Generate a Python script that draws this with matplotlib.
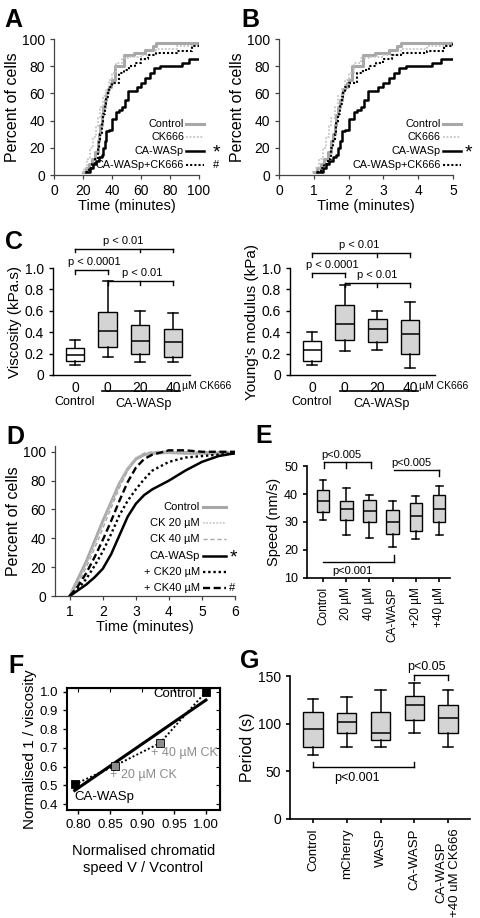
import numpy as np
import matplotlib.pyplot as plt
from matplotlib.lines import Line2D

plt.rcParams['font.family'] = ['Liberation Sans', 'DejaVu Sans']

# ---------------- data ----------------
# A / B : cumulative percent of cells (step curves)
pct_ctrl = [2, 5, 8, 12, 17, 25, 30, 37, 44, 50, 55, 60, 63, 65, 68, 70, 80, 88, 90, 92, 95, 97, 97]
pct_ck = [2, 5, 12, 20, 28, 36, 42, 50, 58, 63, 70, 75, 82, 86, 87, 88, 93, 95, 97]
pct_wasp = [2, 5, 8, 10, 13, 15, 20, 25, 32, 33, 41, 46, 48, 50, 55, 62, 62, 65, 68, 71, 75, 79, 80, 80, 82, 85, 85]
pct_wasp_ck = [2, 5, 8, 12, 20, 25, 30, 38, 45, 52, 57, 62, 65, 68, 68, 75, 77, 80, 82, 85, 88, 90, 90, 91, 95, 97]

tA_ctrl = [20, 22, 24, 26, 28, 30, 31, 32, 33, 34, 35, 36, 37, 38, 39, 40, 42, 48, 55, 63, 68, 70, 100]
tA_ck = [19, 21, 23, 25, 27, 29, 30, 32, 34, 36, 38, 40, 43, 47, 52, 60, 70, 85, 100]
tA_wasp = [22, 25, 27, 29, 31, 33, 34, 35, 36, 38, 40, 43, 45, 47, 49, 51, 55, 57, 60, 63, 66, 69, 73, 80, 88, 93, 100]
tA_wasp_ck = [22, 24, 26, 28, 30, 31, 32, 33, 34, 35, 36, 37, 38, 40, 42, 45, 48, 52, 56, 60, 65, 70, 75, 85, 95, 100]

tB_ctrl = [1.0, 1.1, 1.2, 1.3, 1.4, 1.5, 1.55, 1.6, 1.65, 1.7, 1.75, 1.8, 1.85, 1.9, 1.95, 2.0, 2.1, 2.4, 2.75,
           3.15, 3.4, 3.5, 5.0]
tB_ck = [0.95, 1.05, 1.15, 1.25, 1.35, 1.45, 1.5, 1.6, 1.7, 1.8, 1.9, 2.0, 2.15, 2.35, 2.6, 3.0, 3.5, 4.25, 5.0]
tB_wasp = [1.1, 1.25, 1.35, 1.45, 1.55, 1.65, 1.7, 1.75, 1.8, 1.9, 2.0, 2.15, 2.25, 2.35, 2.45, 2.55, 2.75, 2.85,
           3.0, 3.15, 3.3, 3.45, 3.65, 4.0, 4.4, 4.65, 5.0]
tB_wasp_ck = [1.1, 1.2, 1.3, 1.4, 1.5, 1.55, 1.6, 1.65, 1.7, 1.75, 1.8, 1.85, 1.9, 2.0, 2.1, 2.25, 2.4, 2.6, 2.8,
              3.0, 3.25, 3.5, 3.75, 4.25, 4.75, 5.0]

# C : boxes (whislo, q1, med, q3, whishi)
c_labels = ['0', '0', '20', '40']
visc = [[0.09, 0.134, 0.19, 0.25, 0.33],
        [0.17, 0.26, 0.41, 0.59, 0.88],
        [0.125, 0.20, 0.32, 0.47, 0.60],
        [0.125, 0.17, 0.31, 0.43, 0.58]]
young = [[0.09, 0.134, 0.237, 0.32, 0.405],
         [0.22, 0.327, 0.477, 0.657, 0.84],
         [0.23, 0.31, 0.43, 0.52, 0.595],
         [0.065, 0.20, 0.386, 0.51, 0.68]]

# D : smooth cumulative curves
tD = [1, 1.25, 1.5, 1.75, 2, 2.25, 2.5, 2.75, 3, 3.25, 3.5, 4, 4.5, 5, 5.5, 6]
d_ctrl = [0, 12, 24, 38, 52, 65, 78, 88, 95, 98, 99, 99.5, 99, 99, 99, 99]
d_ck20 = [0, 10, 22, 36, 50, 64, 77, 88, 96, 99, 99.5, 99.5, 99.5, 99.5, 99.5, 99.5]
d_ck40 = [0, 9, 20, 33, 47, 61, 75, 87, 95, 99, 100, 100.5, 100, 100, 100, 100]
d_wasp = [0, 4, 8, 13, 19, 29, 42, 55, 64, 70, 74, 80, 87, 93, 97, 99]
d_wasp_ck20 = [0, 5, 12, 21, 31, 43, 56, 66, 74, 81, 87, 93, 96, 97, 98, 99]
d_wasp_ck40 = [0, 7, 16, 27, 39, 52, 66, 79, 89, 95, 98, 101, 101, 100, 100, 100]

# E : speed boxes
e_labels = ['Control', '20 µM', '40 µM', 'CA-WASP', '+20 µM', '+40 µM']
speed = [[30.8, 33.5, 37.6, 41.3, 44.9],
         [25.3, 30.8, 34.7, 37.5, 42.1],
         [24.4, 30.0, 34.1, 37.9, 39.6],
         [21.2, 25.6, 30.0, 34.4, 37.5],
         [24.0, 26.8, 32.2, 36.7, 39.3],
         [25.5, 30.0, 34.6, 39.5, 42.7]]

# F : normalised speed vs normalised 1/viscosity
f_names = ['CA-WASp', '+ 20 µM CK', '+ 40 µM CK', 'Control']
f_speed = [0.795, 0.858, 0.928, 1.0]
f_invvisc = [0.505, 0.605, 0.725, 1.0]

# G : period boxes
g_labels = ['Control', 'mCherry', 'WASP', 'CA-WASP', 'CA-WASP\n+40 uM CK666']
period = [[67.5, 75.2, 94.3, 112.4, 126.3],
          [76, 90, 102, 110.7, 128],
          [76, 83, 90, 112.4, 135],
          [90, 103.7, 120, 129.1, 142.7],
          [76, 90, 105.5, 119.7, 135]]

# ---------------- figure helpers ----------------
W, H = 480, 918
fig = plt.figure(figsize=(W / 100, H / 100), dpi=100)


def px_axes(l, t, r, b):
    return fig.add_axes([l / W, 1 - b / H, (r - l) / W, (b - t) / H])


def ftext(x, y, s, **kw):
    fig.text(x / W, 1 - y / H, s, **kw)


def fline(x0, x1, y, **kw):
    fig.add_artist(Line2D([x0 / W, x1 / W], [1 - y / H, 1 - y / H], transform=fig.transFigure, **kw))


def clean(ax, lw=0.9, color='black'):
    for s in ['top', 'right']:
        ax.spines[s].set_visible(False)
    for s in ['left', 'bottom']:
        ax.spines[s].set_linewidth(lw)
        ax.spines[s].set_color(color)
    ax.tick_params(width=lw, color=color, length=3)


def bracket(ax, x0, x1, y, ticks, dy, label, lx, ly, size=8):
    ax.plot([x0, x1], [y, y], color='black', lw=1, clip_on=False)
    for tx in ticks:
        ax.plot([tx, tx], [y, y + dy], color='black', lw=1, clip_on=False)
    ax.text(lx, ly, label, ha='center', va='center', fontsize=size, clip_on=False)


def boxes(ax, rows, faces, width):
    stats = [dict(whislo=r[0], q1=r[1], med=r[2], q3=r[3], whishi=r[4]) for r in rows]
    b = ax.bxp(stats, positions=range(len(rows)), widths=width, patch_artist=True, showfliers=False,
               boxprops=dict(lw=1), whiskerprops=dict(lw=1.1), capprops=dict(lw=1.1),
               medianprops=dict(color='black', lw=1.1), capwidths=width * 0.55)
    for p, fc in zip(b['boxes'], faces):
        p.set_facecolor(fc)
        p.set_edgecolor('black')


GRAY = '#a8a8a8'
LGRAY = '#c4c4c4'
st_ctrl = dict(color=GRAY, lw=2.2, ls='-')
st_ck = dict(color=LGRAY, lw=1.3, ls=(0, (1, 1)))
st_wasp = dict(color='black', lw=1.8, ls='-')
st_wasp_ck = dict(color='black', lw=1.5, ls=(0, (1, 1)))

# ---------------- A and B ----------------
for l, r, xlim, xt, times, leg_x, mark_x, hashes in [
        (54, 199, 100, range(0, 101, 20), [tA_ctrl, tA_ck, tA_wasp, tA_wasp_ck], 184, 216, True),
        (279, 453, 5, range(0, 6), [tB_ctrl, tB_ck, tB_wasp, tB_wasp_ck], 441, 468, False)]:
    ax = px_axes(l, 39, r, 175)
    for t, p, st in zip(times, [pct_ctrl, pct_ck, pct_wasp, pct_wasp_ck], [st_ctrl, st_ck, st_wasp, st_wasp_ck]):
        ax.step(t, p, where='post', **st)
    ax.set_xlim(0, xlim)
    ax.set_ylim(0, 100)
    ax.set_xticks(list(xt))
    ax.set_yticks(range(0, 101, 20))
    clean(ax, 0.9, '#444444')
    ax.tick_params(labelsize=10)
    ax.set_xlabel('Time (minutes)', fontsize=10.5, labelpad=1)
    ax.set_ylabel('Percent of cells', fontsize=11.5, labelpad=1)
    rows_y = [124, 137, 151, 165]
    names = ['Control', 'CK666', 'CA-WASp', 'CA-WASp+CK666']
    for yy, nm, st in zip(rows_y, names, [st_ctrl, st_ck, st_wasp, st_wasp_ck]):
        ftext(leg_x, yy, nm, ha='right', va='center', fontsize=7.8)
        fline(leg_x + 2, leg_x + 20, yy, **st)
    ftext(mark_x, rows_y[2] + 2, '*', ha='center', va='center', fontsize=14)
    if hashes:
        ftext(mark_x, rows_y[3], '#', ha='center', va='center', fontsize=8)

ftext(4, 27, 'A', fontsize=18, fontweight='bold')
ftext(241, 27, 'B', fontsize=18, fontweight='bold')

# ---------------- C ----------------
for l, r, xr, rows, ylab, cen, br, under_l, under_r, ctr in [
        (53, 190, 3.52, visc, 'Viscosity (kPa.s)', [1.47, 0.58, 2.05], [1.18, 0.98, 0.88], 102, 180, 75),
        (290, 435, 3.76, young, "Young's modulus (kPa)", [1.44, 0.61, 2.0], [1.14, 0.953, 0.86], 340, 418, 312)]:
    ax = px_axes(l, 268, r, 375)
    boxes(ax, rows, ['white', '#d4d4d4', '#d4d4d4', '#d4d4d4'], 0.56)
    ax.set_xlim(-0.67, xr)
    ax.set_ylim(0, 1.0)
    ax.set_yticks([0, 0.2, 0.4, 0.6, 0.8, 1.0])
    ax.set_yticklabels(['0', '0.2', '0.4', '0.6', '0.8', '1.0'])
    ax.set_xticks(range(4))
    ax.set_xticklabels(c_labels)
    clean(ax, 1.0)
    ax.tick_params(axis='x', length=0, pad=4)
    ax.tick_params(labelsize=10)
    ax.set_ylabel(ylab, fontsize=11, labelpad=2)
    ax.text(3.27, -0.1, 'µM CK666', fontsize=7.5, ha='left', va='center')
    bracket(ax, 0, 3, br[0], [0, 2, 3], -0.035, 'p < 0.01', cen[0], br[0] + 0.075)
    bracket(ax, 0, 1, br[1], [0, 1], -0.035, 'p < 0.0001', cen[1], br[1] + 0.075)
    bracket(ax, 1, 3, br[2], [1, 2, 3], -0.035, 'p < 0.01', cen[2], br[2] + 0.075)
    ftext(ctr, 402, 'Control', ha='center', va='center', fontsize=9)
    fline(under_l, under_r, 391, color='black', lw=1.2)
    ftext((under_l + under_r) / 2 + 3, 404, 'CA-WASp', ha='center', va='center', fontsize=9)

ftext(5, 249, 'C', fontsize=18, fontweight='bold')

# ---------------- D ----------------
ax = px_axes(55, 446, 235, 596)
styles_d = [st_ctrl,
            dict(color=LGRAY, lw=1.2, ls=(0, (1, 1))),
            dict(color=GRAY, lw=1.0, ls=(0, (3, 2))),
            dict(color='black', lw=1.8, ls='-'),
            dict(color='black', lw=1.7, ls=(0, (1, 1.2))),
            dict(color='black', lw=1.7, ls=(0, (3, 1.5)))]
series_d = [d_ctrl, d_ck20, d_ck40, d_wasp, d_wasp_ck20, d_wasp_ck40]
for vals, st in zip(series_d, styles_d):
    ax.plot(tD, vals, **st)
ax.set_xlim(0.55, 6)
ax.set_ylim(0, 104)
ax.set_xticks(range(1, 7))
ax.set_yticks(range(0, 101, 20))
clean(ax, 0.9, '#444444')
ax.tick_params(labelsize=10)
ax.set_xlabel('Time (minutes)', fontsize=10.5, labelpad=1)
ax.set_ylabel('Percent of cells', fontsize=11.5, labelpad=1)
names_d = ['Control', 'CK 20 µM', 'CK 40 µM', 'CA-WASp', '+ CK20 µM', '+ CK40 µM']
for i, (nm, st) in enumerate(zip(names_d, styles_d)):
    yy = 507 + i * 16.2
    ftext(200, yy, nm, ha='right', va='center', fontsize=8)
    fline(203, 226, yy, **st)
ftext(233, 507 + 3 * 16.2 + 2, '*', ha='center', va='center', fontsize=14)
ftext(232, 507 + 5 * 16.2, '#', ha='center', va='center', fontsize=8)
ftext(6, 444, 'D', fontsize=18, fontweight='bold')

# ---------------- E ----------------
ax = px_axes(307, 466, 450, 578)
boxes(ax, speed, ['#d4d4d4'] * 6, 0.54)
ax.set_xlim(-0.69, 5.47)
ax.set_ylim(10, 50)
ax.set_yticks(range(10, 51, 10))
ax.set_xticks(range(6))
ax.set_xticklabels(e_labels, rotation=90, fontsize=8.5)
clean(ax, 1.2)
ax.tick_params(axis='y', labelsize=9)
ax.set_ylabel('Speed (nm/s)', fontsize=10.5, labelpad=2)
bracket(ax, 0.05, 2.05, 51.4, [0.05, 1, 2.05], -2.0, 'p<0.005', 0.78, 53.8)
bracket(ax, 3.05, 5, 48.6, [5], -2.2, 'p<0.005', 3.8, 51.1)
bracket(ax, 0, 3.05, 15.7, [3.05], 2.5, 'p<0.001', 1.25, 12.4)
ftext(255, 443, 'E', fontsize=18, fontweight='bold')

# ---------------- F ----------------
ax = px_axes(67, 688, 220, 810)
fit = np.polyfit(f_speed, f_invvisc, 1)
xs = np.array([f_speed[0], f_speed[-1]])
ax.plot(xs, np.polyval(fit, xs), color='black', lw=2.2)
ax.plot(f_speed, f_invvisc, color='black', lw=1.4, ls=(0, (1, 1.2)))
face_f = ['black', '#8c8c8c', '#8c8c8c', 'black']
for x, y, fc in zip(f_speed, f_invvisc, face_f):
    ax.plot(x, y, marker='s', ms=5.5, mfc=fc, mec='black', mew=0.6, ls='none', clip_on=False)
ax.set_xlim(0.783, 1.022)
ax.set_ylim(0.368, 1.02)
ax.set_xticks([0.80, 0.85, 0.90, 0.95, 1.00])
ax.set_xticklabels(['0.80', '0.85', '0.90', '0.95', '1.00'])
ax.set_yticks([0.4, 0.5, 0.6, 0.7, 0.8, 0.9, 1.0])
for s in ax.spines.values():
    s.set_linewidth(1.5)
ax.tick_params(labelsize=9.5, length=3, width=1)
sx = ax.secondary_xaxis('top')
sx.set_xticks([0.80, 0.85, 0.90, 0.95, 1.00])
sx.tick_params(direction='in', labeltop=False, length=3)
sy = ax.secondary_yaxis('right')
sy.set_yticks([0.4, 0.5, 0.6, 0.7, 0.8, 0.9, 1.0])
sy.tick_params(direction='in', labelright=False, length=3)
ax.text(0.985, 0.99, f_names[3], ha='right', va='center', fontsize=9.5)
ax.text(0.914, 0.673, f_names[2], ha='left', va='center', fontsize=9, color='#8c8c8c', clip_on=False)
ax.text(0.85, 0.555, f_names[1], ha='left', va='center', fontsize=9, color='#8c8c8c')
ax.text(0.795, 0.437, f_names[0], ha='left', va='center', fontsize=9.5)
ax.set_ylabel('Normalised 1 / viscosity', fontsize=11, labelpad=2)
ax.set_xlabel('Normalised chromatid\nspeed V / Vcontrol', fontsize=10.5, labelpad=9, linespacing=1.3)
ftext(8, 673, 'F', fontsize=18, fontweight='bold')

# ---------------- G ----------------
ax = px_axes(290, 676, 470, 819)
boxes(ax, period, ['#d4d4d4'] * 5, 0.57)
ax.set_xlim(-0.68, 4.65)
ax.set_ylim(0, 150)
ax.set_yticks([0, 50, 100, 150])
ax.set_xticks(range(5))
ax.set_xticklabels(g_labels, rotation=90, fontsize=9.5, va='top', ha='center')
clean(ax, 1.2)
ax.tick_params(axis='y', labelsize=10)
ax.set_ylabel('Period (s)', fontsize=11.5, labelpad=2)
bracket(ax, 3, 4, 151, [3, 4], -5, 'p<0.05', 3.35, 159.5, size=9)
bracket(ax, 0, 3, 54.6, [0, 3], 5.5, 'p<0.001', 1.3, 43.5, size=9)
ftext(240, 668, 'G', fontsize=18, fontweight='bold')

fig.savefig('out.png', dpi=100)
